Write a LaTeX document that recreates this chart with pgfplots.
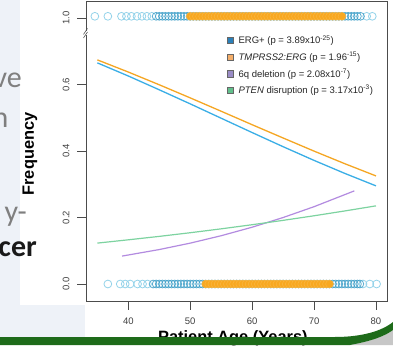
\documentclass[border=0pt]{standalone}
\usepackage{pgfplots}
\pgfplotsset{compat=1.18}
\usepackage{fontspec}
\setmainfont{Liberation Sans}
\newfontfamily\slidefont{Carlito}

\definecolor{ergline}{HTML}{3AAEE6}
\definecolor{tmpline}{HTML}{F5A623}
\definecolor{sixqline}{HTML}{B38BE0}
\definecolor{ptenline}{HTML}{7DD3A0}
\definecolor{ergsq}{HTML}{2B80B9}
\definecolor{tmpsq}{HTML}{F4AE6A}
\definecolor{sixqsq}{HTML}{9A8CC6}
\definecolor{ptensq}{HTML}{62C08C}
\definecolor{cyanlight}{HTML}{94D3EA}
\definecolor{tealpt}{HTML}{3E9FC8}
\definecolor{orangept}{HTML}{F8A820}
\definecolor{slidebg}{HTML}{EEF2F8}
\definecolor{slidegreen}{HTML}{1E6B1A}
\definecolor{slidegray}{HTML}{7F7F7F}

\begin{document}
\begin{tikzpicture}
% slide background
\fill[slidebg] (0pt,0pt) rectangle (393pt,345pt);
\fill[white] (20pt,40pt) rectangle (393pt,345pt);
\fill[white] (85pt,8pt) rectangle (393pt,40pt);
% slide text fragments
\node[anchor=base east, inner sep=0pt, text=slidegray, font=\slidefont\fontsize{30}{36}\selectfont] at (22pt,257pt) {ve};
\node[anchor=base east, inner sep=0pt, text=slidegray, font=\slidefont\fontsize{30}{36}\selectfont] at (8.5pt,217pt) {n};
\node[anchor=base east, inner sep=0pt, text=slidegray, font=\slidefont\fontsize{30}{36}\selectfont] at (27pt,123pt) {y-};
\node[anchor=base east, inner sep=0pt, text=black!90, font=\slidefont\bfseries\fontsize{30}{36}\selectfont] at (37pt,88pt) {cer};

\begin{axis}[
  at={(86pt,44pt)}, anchor=south west,
  width=301pt, height=300pt, scale only axis,
  xmin=33.17, xmax=81.78, ymin=-0.0511, ymax=0.851,
  clip=false,
  axis line style={black!70, line width=0.6pt},
  every tick/.style={black!70, line width=0.6pt},
  tick align=outside, major tick length=9pt,
  xtick={40,50,60,70,80},
  ytick={0,0.2,0.4,0.6,0.8},
  yticklabels={0.0,0.2,0.4,0.6,1.0},
  xtick pos=bottom, ytick pos=left,
  /pgf/number format/assume math mode=true,
  tick label style={font=\fontsize{9.5}{11}\selectfont, text=black!75},
  yticklabel style={rotate=90, anchor=south},
  xticklabel shift=4pt, yticklabel shift=4pt,
  xlabel={Patient Age (Years)},
  xlabel style={font=\bfseries\fontsize{16.4}{18}\selectfont, at={(axis description cs:0.488,-0.14)}, anchor=base},
  ylabel={Frequency},
  ylabel style={font=\bfseries\fontsize{16.4}{18}\selectfont, at={(axis description cs:-0.186,0.49)}, anchor=center},
  legend style={at={(0.468,0.89)}, anchor=north west, draw=none, fill=none,
    font=\fontsize{9.5}{11}\selectfont, row sep=4.3pt, inner sep=0pt,
    nodes={inner sep=1.2pt, text=black!85},
    /tikz/every odd column/.append style={column sep=3.5pt}},
  legend cell align=left,
]
\addlegendimage{legend image code/.code={\draw[black!60, fill=ergsq] (0pt,-3.2pt) rectangle (6.4pt,3.2pt);}}
\addlegendentry{ERG+ (p = 3.89x10\textsuperscript{-25})}
\addlegendimage{legend image code/.code={\draw[black!60, fill=tmpsq] (0pt,-3.2pt) rectangle (6.4pt,3.2pt);}}
\addlegendentry{\textit{TMPRSS2:ERG} (p = 1.96\textsuperscript{-15})}
\addlegendimage{legend image code/.code={\draw[black!60, fill=sixqsq] (0pt,-3.2pt) rectangle (6.4pt,3.2pt);}}
\addlegendentry{6q deletion (p = 2.08x10\textsuperscript{-7})}
\addlegendimage{legend image code/.code={\draw[black!60, fill=ptensq] (0pt,-3.2pt) rectangle (6.4pt,3.2pt);}}
\addlegendentry{\textit{PTEN} disruption (p = 3.17x10\textsuperscript{-3})}

% observations: top row (event = 1, drawn above the axis break)
\addplot[forget plot, only marks, mark=o, mark size=3.9pt, draw=cyanlight, line width=0.8pt]
 coordinates {(34.6,0.805) (36.7,0.805) (38.9,0.805) (39.7,0.805) (40.5,0.805) (41.4,0.805) (42.2,0.805) (43.0,0.805) (43.8,0.805) (78.5,0.805) (79.4,0.805)};
\addplot[forget plot, only marks, mark=o, mark size=3.9pt, draw=tealpt, line width=0.8pt, opacity=0.85]
 coordinates {(44.5,0.805) (45,0.805) (45.5,0.805) (46,0.805) (46.5,0.805) (47,0.805) (47.5,0.805) (48,0.805) (48.5,0.805) (49,0.805) (49.5,0.805) (50,0.805) (50.5,0.805) (51,0.805) (51.5,0.805) (52,0.805) (52.5,0.805) (53,0.805) (53.5,0.805) (54,0.805) (54.5,0.805) (55,0.805) (55.5,0.805) (56,0.805) (56.5,0.805) (57,0.805) (57.5,0.805) (58,0.805) (58.5,0.805) (59,0.805) (59.5,0.805) (60,0.805) (60.5,0.805) (61,0.805) (61.5,0.805) (62,0.805) (62.5,0.805) (63,0.805) (63.5,0.805) (64,0.805) (64.5,0.805) (65,0.805) (65.5,0.805) (66,0.805) (66.5,0.805) (67,0.805) (67.5,0.805) (68,0.805) (68.5,0.805) (69,0.805) (69.5,0.805) (70,0.805) (70.5,0.805) (71,0.805) (71.5,0.805) (72,0.805) (72.5,0.805) (73,0.805) (73.5,0.805) (74,0.805) (74.5,0.805) (75,0.805) (75.5,0.805) (76,0.805) (76.5,0.805) (77,0.805) (77.5,0.805)};
\addplot[forget plot, only marks, mark=*, mark size=3.9pt, fill=orangept, draw=orangept!85!white, line width=0.5pt]
 coordinates {(50,0.805) (50.5,0.805) (51,0.805) (51.5,0.805) (52,0.805) (52.5,0.805) (53,0.805) (53.5,0.805) (54,0.805) (54.5,0.805) (55,0.805) (55.5,0.805) (56,0.805) (56.5,0.805) (57,0.805) (57.5,0.805) (58,0.805) (58.5,0.805) (59,0.805) (59.5,0.805) (60,0.805) (60.5,0.805) (61,0.805) (61.5,0.805) (62,0.805) (62.5,0.805) (63,0.805) (63.5,0.805) (64,0.805) (64.5,0.805) (65,0.805) (65.5,0.805) (66,0.805) (66.5,0.805) (67,0.805) (67.5,0.805) (68,0.805) (68.5,0.805) (69,0.805) (69.5,0.805) (70,0.805) (70.5,0.805) (71,0.805) (71.5,0.805) (72,0.805) (72.5,0.805) (73,0.805) (73.5,0.805) (74,0.805) (74.5,0.805)};

% observations: bottom row (event = 0)
\addplot[forget plot, only marks, mark=o, mark size=3.9pt, draw=cyanlight, line width=0.8pt]
 coordinates {(36.7,0) (38.7,0) (39.5,0) (40.3,0) (41.5,0) (42.3,0) (43.1,0) (77.9,0) (79.0,0) (80.1,0)};
\addplot[forget plot, only marks, mark=o, mark size=3.9pt, draw=tealpt, line width=0.8pt, opacity=0.85]
 coordinates {(44,0) (44.5,0) (45,0) (45.5,0) (46,0) (46.5,0) (47,0) (47.5,0) (48,0) (48.5,0) (49,0) (49.5,0) (50,0) (50.5,0) (51,0) (51.5,0) (52,0) (52.5,0) (53,0) (53.5,0) (54,0) (54.5,0) (55,0) (55.5,0) (56,0) (56.5,0) (57,0) (57.5,0) (58,0) (58.5,0) (59,0) (59.5,0) (60,0) (60.5,0) (61,0) (61.5,0) (62,0) (62.5,0) (63,0) (63.5,0) (64,0) (64.5,0) (65,0) (65.5,0) (66,0) (66.5,0) (67,0) (67.5,0) (68,0) (68.5,0) (69,0) (69.5,0) (70,0) (70.5,0) (71,0) (71.5,0) (72,0) (72.5,0) (73,0) (73.5,0) (74,0) (74.5,0) (75,0) (75.5,0) (76,0) (76.5,0) (77,0) (77.4,0)};
\addplot[forget plot, only marks, mark=*, mark size=3.9pt, fill=orangept, draw=orangept!85!white, line width=0.5pt]
 coordinates {(52.5,0) (53,0) (53.5,0) (54,0) (54.5,0) (55,0) (55.5,0) (56,0) (56.5,0) (57,0) (57.5,0) (58,0) (58.5,0) (59,0) (59.5,0) (60,0) (60.5,0) (61,0) (61.5,0) (62,0) (62.5,0) (63,0) (63.5,0) (64,0) (64.5,0) (65,0) (65.5,0) (66,0) (66.5,0) (67,0) (67.5,0) (68,0) (68.5,0) (69,0) (69.5,0) (70,0) (70.5,0) (71,0) (71.5,0) (72,0) (72.5,0)};

% fitted curves
\addplot[forget plot, ergline, line width=1.3pt] coordinates {(35,0.665) (40,0.6255) (45,0.584) (50,0.5417) (55,0.4985) (60,0.4554) (65,0.4129) (70,0.3717) (75,0.3323) (80,0.2951)};
\addplot[forget plot, tmpline, line width=1.3pt] coordinates {(35,0.674) (40,0.6374) (45,0.5991) (50,0.5597) (55,0.5195) (60,0.4790) (65,0.4391) (70,0.3996) (75,0.3615) (80,0.325)};
\addplot[forget plot, sixqline, line width=1.2pt] coordinates {(39,0.084) (45,0.1036) (50,0.1229) (55,0.1452) (60,0.1708) (65,0.1999) (70,0.2325) (76.5,0.280)};
\addplot[forget plot, ptenline, line width=1.2pt] coordinates {(35,0.123) (40,0.1329) (45,0.1432) (50,0.1542) (55,0.1659) (60,0.1783) (65,0.1914) (70,0.2052) (75,0.2198) (80,0.235)};

% axis break on the y axis
\fill[white] (axis cs:33.17,0.755) ++(-3pt,-2pt) rectangle ++(6pt,4pt);
\draw[black!70, line width=0.6pt] (axis cs:33.17,0.755) ++(-2.5pt,-5pt) -- ++(4pt,6pt);
\draw[black!70, line width=0.6pt] (axis cs:33.17,0.755) ++(-2.5pt,-1.5pt) -- ++(4pt,6pt);
\end{axis}

% green slide band
\fill[black!22] (350pt,0pt) .. controls (372pt,4pt) and (385pt,9pt) .. (393pt,15pt) -- (393pt,0pt) -- cycle;
\fill[slidegreen] (0pt,0pt) -- (0pt,8pt) -- (335pt,8pt) .. controls (362pt,8pt) and (382pt,14pt) .. (393pt,23pt) -- (393pt,15pt) .. controls (385pt,9pt) and (372pt,4pt) .. (350pt,0pt) -- cycle;

\pgfresetboundingbox
\path[use as bounding box] (0pt,0pt) rectangle (393pt,345pt);
\end{tikzpicture}
\end{document}
